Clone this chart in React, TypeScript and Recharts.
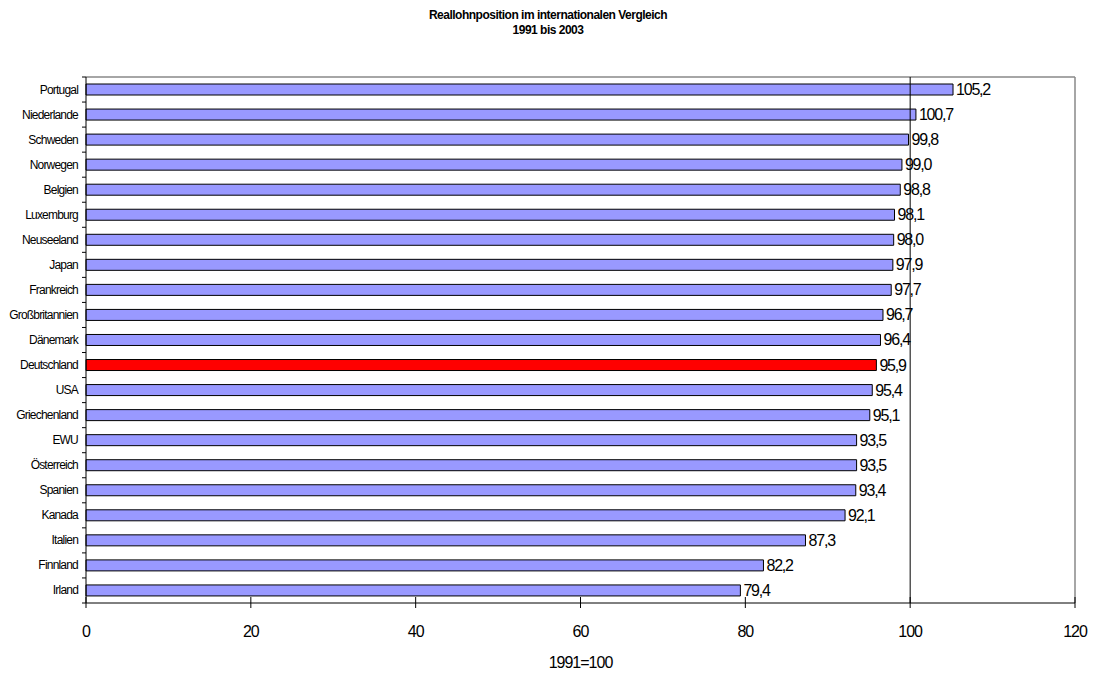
import React from 'react';
import { BarChart, Bar, XAxis, YAxis, Cell, LabelList, ReferenceLine, CartesianGrid } from 'recharts';

const countries = ['Portugal','Niederlande','Schweden','Norwegen','Belgien','Luxemburg','Neuseeland','Japan','Frankreich','Großbritannien','Dänemark','Deutschland','USA','Griechenland','EWU','Österreich','Spanien','Kanada','Italien','Finnland','Irland'];
const values = [105.2,100.7,99.8,99.0,98.8,98.1,98.0,97.9,97.7,96.7,96.4,95.9,95.4,95.1,93.5,93.5,93.4,92.1,87.3,82.2,79.4];
const highlight = 'Deutschland';
const xTicks = [0,20,40,60,80,100,120];
const title1 = 'Reallohnposition im internationalen Vergleich';
const title2 = '1991 bis 2003';
const xLabel = '1991=100';

const data = countries.map((name, i) => ({ name, value: values[i] }));

const W = 1096, H = 673;
const M_TOP = 77, M_RIGHT = 21, X_H = 70, Y_W = 86;
const PLOT_H = H - M_TOP - X_H;
const BAND = PLOT_H / data.length;
const FONT = '"Liberation Sans", Arial, sans-serif';

const XTick = (props: any) => {
  const { x, y, payload } = props;
  return (
    <g>
      <line x1={x} x2={x} y1={y - 6} y2={y + 5} stroke="#000" />
      <text x={x} y={y + 28} textAnchor="middle" dominantBaseline="central" fontSize={16} letterSpacing={-1} fill="#000" fontFamily={FONT}>{payload.value}</text>
    </g>
  );
};

const YTick = (props: any) => {
  const { x, y, payload, index } = props;
  return (
    <g>
      <line x1={x - 4} x2={x} y1={y - BAND / 2} y2={y - BAND / 2} stroke="#000" />
      {index === data.length - 1 && <line x1={x - 4} x2={x} y1={y + BAND / 2} y2={y + BAND / 2} stroke="#000" />}
      <text x={x - 8} y={y} textAnchor="end" dominantBaseline="central" fontSize={12} letterSpacing={-0.8} fill="#000" fontFamily={FONT}>{payload.value}</text>
    </g>
  );
};

const ValueLabel = (props: any) => {
  const { x, y, width, height, value } = props;
  return (
    <text x={x + width + 3} y={y + height / 2} dominantBaseline="central" fontSize={16} letterSpacing={-1.2} fill="#000" fontFamily={FONT}>
      {Number(value).toFixed(1).replace('.', ',')}
    </text>
  );
};

export default function App() {
  return (
    <div style={{ position: 'absolute', left: 0, top: 0, width: W, height: H, background: '#fff', fontFamily: FONT }}>
      <div style={{ position: 'absolute', left: 0, top: 8, width: W, textAlign: 'center', fontWeight: 'bold', fontSize: 12, letterSpacing: -0.5, lineHeight: '15px', color: '#000' }}>
        <div>{title1}</div>
        <div>{title2}</div>
      </div>
      <BarChart width={W} height={H} data={data} layout="vertical" margin={{ top: M_TOP, right: M_RIGHT, bottom: 0, left: 0 }} barCategoryGap={0}>
        <CartesianGrid stroke="#888" strokeWidth={1.5}
          horizontalCoordinatesGenerator={(p: any) => [p.offset.top]}
          verticalCoordinatesGenerator={(p: any) => [p.offset.left + p.offset.width]} />
        <XAxis type="number" domain={[0, 120]} ticks={xTicks} height={X_H} tickSize={0} tickMargin={0} tickLine={false} axisLine={{ stroke: '#000' }} tick={<XTick />} interval={0}
          label={{ value: xLabel, position: 'insideBottom', offset: 5, fontSize: 16, fill: '#000', letterSpacing: -1, fontFamily: FONT }} />
        <YAxis type="category" dataKey="name" width={Y_W} tickSize={0} tickMargin={0} tickLine={false} axisLine={{ stroke: '#000' }} tick={<YTick />} interval={0} />
        <ReferenceLine x={100} stroke="#000" strokeWidth={1} />
        <Bar dataKey="value" barSize={11} stroke="#000" strokeWidth={1} isAnimationActive={false}>
          {data.map((d) => (
            <Cell key={d.name} fill={d.name === highlight ? '#FF0000' : '#9999FF'} />
          ))}
          <LabelList dataKey="value" content={<ValueLabel />} />
        </Bar>
      </BarChart>
    </div>
  );
}
